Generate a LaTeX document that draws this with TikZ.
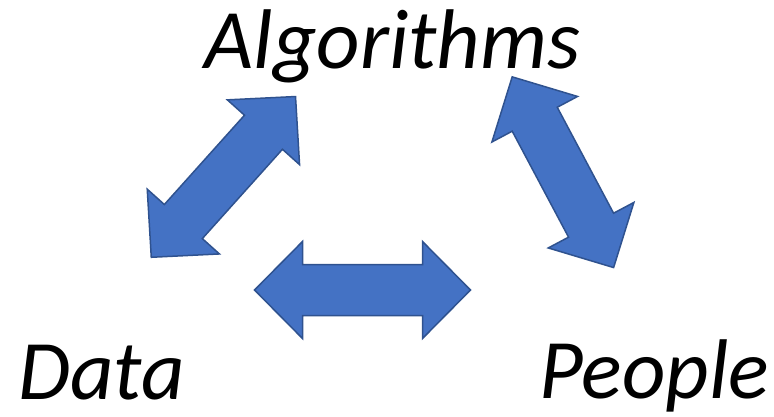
\documentclass[tikz,border=0pt]{standalone}
\usepackage{fontspec}
\setmainfont{Carlito}
\usepackage{tikz}
\usetikzlibrary{calc}
\definecolor{arrowblue}{HTML}{4472C4}
\definecolor{arrowedge}{HTML}{2F528F}

\tikzset{
  blockarrow/.style={fill=arrowblue, draw=arrowedge, line width=1.5bp, line join=miter},
  word/.style={inner sep=0pt, anchor=base, text depth=0pt, font=\fontsize{85}{100}\selectfont\itshape},
  dblarrow/.pic={
    \draw[blockarrow] (-108,0) -- (-60,-48.5) -- (-60,-25.5) -- (60,-25.5) -- (60,-48.5)
      -- (108,0) -- (60,48.5) -- (60,25.5) -- (-60,25.5) -- (-60,48.5) -- cycle;
  }
}

\begin{document}
\begin{tikzpicture}[x=1bp, y=-1bp]
  \useasboundingbox (0,0) rectangle (774,416);
  % Labels
  \node[word] (algorithms) at (392.5,68) {Algorithms};
  \node[word] (data) at (101.4,399) {Data};
  \node[word] (people) at (654.5,398) {People};
  % Arrows
  \pic[rotate=48.1] at (223.4,176.9) {dblarrow};
  \pic[rotate=-62] at (562.9,172.2) {dblarrow};
  \pic at (362.5,290) {dblarrow};
\end{tikzpicture}
\end{document}
